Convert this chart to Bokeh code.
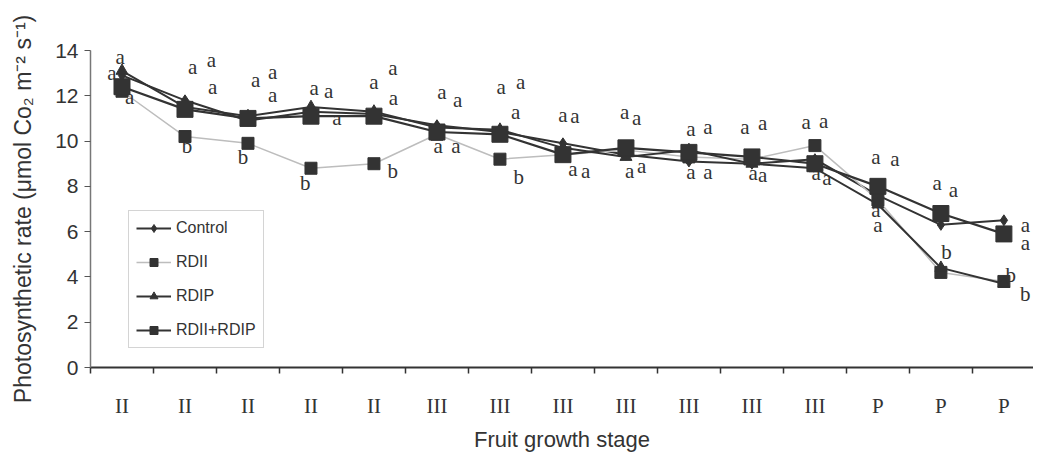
from bokeh.plotting import figure
from bokeh.models import FixedTicker, Range1d, Legend, LegendItem, ColumnDataSource
from bokeh.embed import file_html
from bokeh.resources import INLINE
from bokeh.core.properties import value

# ---- data ----
stages = ["II", "II", "II", "II", "II", "III", "III", "III", "III", "III", "III", "III", "P", "P", "P"]
control = [12.9, 11.8, 10.9, 11.3, 11.2, 10.7, 10.4, 9.9, 9.4, 9.1, 9.0, 9.2, 7.6, 6.3, 6.5]
rdii = [12.2, 10.2, 9.9, 8.8, 9.0, 10.3, 9.2, 9.4, 9.6, 9.3, 9.2, 9.8, 7.4, 4.2, 3.8]
rdip = [13.1, 11.5, 11.1, 11.5, 11.3, 10.6, 10.5, 9.7, 9.3, 9.6, 9.0, 8.8, 7.2, 4.4, 3.7]
rdii_rdip = [12.4, 11.4, 11.0, 11.1, 11.1, 10.4, 10.3, 9.4, 9.7, 9.5, 9.3, 9.0, 8.0, 6.8, 5.9]

# significance letters: stage index, horizontal offset (in stage units), y value, letter
sig_stage = [0, 0, 0, 1, 1, 1, 1, 2, 2, 2, 2, 3, 3, 3, 3, 4, 4, 4, 4,
             5, 5, 5, 5, 6, 6, 6, 6, 7, 7, 7, 7, 8, 8, 8, 8, 9, 9, 9, 9,
             10, 10, 10, 10, 11, 11, 11, 11, 12, 12, 12, 12, 13, 13, 13, 14, 14, 14, 14]
sig_dx = [-0.03, -0.16, 0.12, 0.12, 0.42, 0.44, 0.03, 0.12, 0.39, 0.39, -0.08,
          0.05, 0.28, 0.41, -0.09, 0.0, 0.30, 0.31, 0.30,
          0.08, 0.33, 0.02, 0.30, 0.02, 0.33, 0.25, 0.30, 0.0, 0.19, 0.16, 0.36,
          -0.02, 0.17, 0.06, 0.25, 0.03, 0.30, 0.03, 0.30,
          -0.11, 0.17, 0.02, 0.17, -0.14, 0.14, 0.02, 0.19, -0.03, 0.27, -0.03, 0.0,
          -0.06, 0.20, 0.09, 0.34, 0.34, 0.11, 0.34]
sig_y = [13.70, 13.0, 11.96, 13.26, 13.57, 12.39, 9.78, 12.70, 13.04, 12.04, 9.30,
         12.35, 12.22, 11.04, 8.13, 12.61, 13.22, 11.91, 8.70,
         12.17, 11.83, 9.78, 9.78, 12.39, 12.61, 11.30, 8.43, 11.17, 11.09, 8.78, 8.70,
         11.30, 11.04, 8.70, 8.91, 10.52, 10.61, 8.65, 8.65,
         10.61, 10.78, 8.57, 8.48, 10.83, 10.87, 8.57, 8.35, 9.30, 9.22, 6.96, 6.30,
         8.13, 7.83, 5.09, 6.30, 5.52, 4.09, 3.26]
sig_text = ["a", "a", "a", "a", "a", "a", "b", "a", "a", "a", "b",
            "a", "a", "a", "b", "a", "a", "a", "b",
            "a", "a", "a", "a", "a", "a", "a", "b", "a", "a", "a", "a",
            "a", "a", "a", "a", "a", "a", "a", "a",
            "a", "a", "a", "a", "a", "a", "a", "a", "a", "a", "a", "a",
            "a", "a", "b", "a", "a", "b", "b"]

x = list(range(len(stages)))
dark = "#333333"

p = figure(width=1033, height=454, output_backend="svg", toolbar_location=None,
           x_range=Range1d(-0.5, 14.47), y_range=Range1d(0, 14),
           min_border_left=90, min_border_top=50, min_border_right=0, min_border_bottom=0)
p.outline_line_color = None
p.grid.visible = False
p.background_fill_color = "white"

# series
r_c_l = p.line(x, control, line_color=dark, line_width=2)
r_c_m = p.scatter(x, control, marker="diamond", size=11, color=dark)
r_i_l = p.line(x, rdii, line_color="#bdbdbd", line_width=1.5)
r_i_m = p.scatter(x, rdii, marker="square", size=12, color=dark)
r_p_l = p.line(x, rdip, line_color=dark, line_width=2)
r_p_m = p.scatter(x, rdip, marker="triangle", size=12, color=dark)
r_b_l = p.line(x, rdii_rdip, line_color=dark, line_width=2.2)
r_b_m = p.scatter(x, rdii_rdip, marker="square", size=16, color=dark)

# significance letters
sx = [s + d for s, d in zip(sig_stage, sig_dx)]
src = ColumnDataSource(dict(x=sx, y=sig_y, t=sig_text))
p.text(x="x", y="y", text="t", source=src, text_font=value("Liberation Serif"),
       text_font_size="21px", text_color=dark, text_align="center", text_baseline="middle")

# axes
p.xaxis.ticker = FixedTicker(ticks=x, minor_ticks=[i + 0.5 for i in range(-1, 15)])
p.xaxis.major_label_overrides = {i: s for i, s in enumerate(stages)}
p.xaxis.major_tick_out = 0
p.xaxis.major_tick_in = 0
p.xaxis.minor_tick_out = 6
p.xaxis.minor_tick_in = 0
p.xaxis.major_label_standoff = 20
p.xaxis.major_label_text_font = "Liberation Serif"
p.xaxis.major_label_text_font_size = "21px"
p.xaxis.major_label_text_color = dark
p.xaxis.axis_label = "Fruit growth stage"
p.xaxis.axis_label_text_font = "Liberation Sans"
p.xaxis.axis_label_text_font_style = "normal"
p.xaxis.axis_label_text_font_size = "22px"
p.xaxis.axis_label_text_color = dark
p.xaxis.axis_label_standoff = 6
p.xaxis.axis_line_color = dark
p.xaxis.axis_line_width = 2
p.xaxis.minor_tick_line_color = dark
p.xaxis.minor_tick_line_width = 1.5

p.yaxis.ticker = FixedTicker(ticks=[0, 2, 4, 6, 8, 10, 12, 14], minor_ticks=[])
p.yaxis.major_tick_out = 6
p.yaxis.major_tick_in = 0
p.yaxis.major_label_standoff = 6
p.yaxis.major_label_text_font = "Liberation Sans"
p.yaxis.major_label_text_font_size = "21px"
p.yaxis.major_label_text_color = dark
p.yaxis.axis_label = "Photosynthetic rate (\u03bcmol Co\u2082 m\u207b\u00b2 s\u207b\u00b9)"
p.yaxis.axis_label_text_font = "Liberation Sans"
p.yaxis.axis_label_text_font_style = "normal"
p.yaxis.axis_label_text_font_size = "23px"
p.yaxis.axis_label_text_color = dark
p.yaxis.axis_label_standoff = 16
p.yaxis.axis_line_color = "#777777"
p.yaxis.axis_line_width = 1.5
p.yaxis.major_tick_line_color = "#555555"

legend = Legend(items=[
    LegendItem(label="Control", renderers=[r_c_l, r_c_m]),
    LegendItem(label="RDII", renderers=[r_i_l, r_i_m]),
    LegendItem(label="RDIP", renderers=[r_p_l, r_p_m]),
    LegendItem(label="RDII+RDIP", renderers=[r_b_l, r_b_m]),
], location=(38, 19))
legend.border_line_color = "#aaaaaa"
legend.border_line_width = 1
legend.label_text_font = "Liberation Sans"
legend.label_text_font_size = "16px"
legend.label_text_color = dark
legend.glyph_width = 35
legend.glyph_height = 20
legend.spacing = 14
legend.padding = 7
legend.margin = 0
legend.label_standoff = 5
legend.background_fill_alpha = 1
p.add_layout(legend, "center")

open("out.html", "w").write(file_html(p, INLINE))
